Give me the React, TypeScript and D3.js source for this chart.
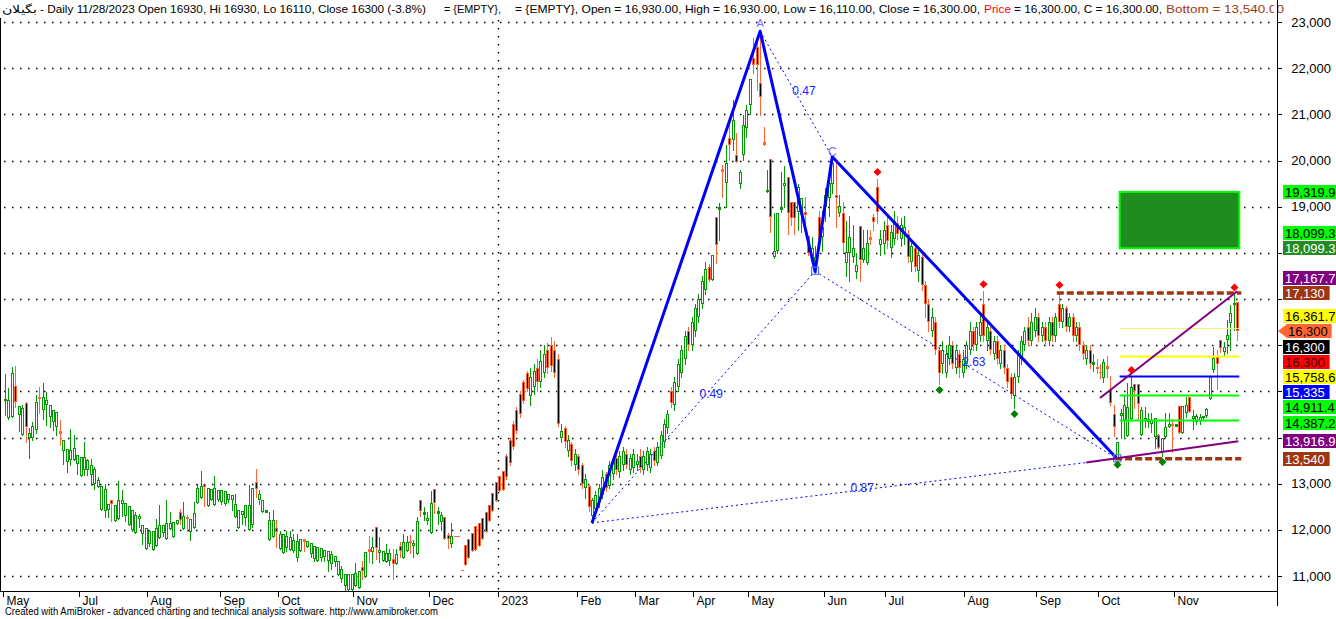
import { useEffect } from "react";
import * as d3 from "d3";

const WIDTH = 1336;
const HEIGHT = 619;
const PLOT_RIGHT = 1277;
const AXIS_Y = 591;
const GREEN = "#009a00";
const ORANGE = "#ff6633";
const BLUE = "#0000ff";
const FONT = "'Liberation Sans', Arial, sans-serif";

// daily candles [open, high, low, close]
const may22 = [
  [14810, 15377, 14485, 14830], [14413, 15065, 14400, 14812], [14435, 15536, 14435, 15392], [15116, 15550, 14666, 14775],
  [14485, 14681, 14145, 14681], [14050, 14703, 14050, 14630], [14739, 14775, 13905, 14231], [14000, 14195, 13565, 14087],
  [14000, 14340, 13956, 14246], [14159, 14920, 14087, 14775], [14884, 15087, 14522, 14848], [14594, 15174, 14391, 14870],
  [14703, 14978, 14268, 14812], [14449, 14703, 14232, 14703], [14326, 14594, 14159, 14594], [14232, 14543, 14050, 14543],
  [14137, 14377, 13833, 14087], [13710, 13941, 13420, 13941], [13470, 13760, 13253, 13760], [13506, 14181, 13398, 13738],
  [13506, 14050, 13506, 13782], [13434, 13630, 13216, 13630], [13166, 13579, 13166, 13579], [13304, 13905, 13180, 13579],
  [13289, 13528, 13180, 13506], [13180, 13528, 12963, 13412], [13000, 13360, 12890, 13325], [12927, 13144, 12927, 13086],
  [12433, 12941, 12433, 12941], [12405, 12985, 12274, 12890], [12419, 12564, 12274, 12564], [12651, 12651, 12201, 12550],
  [12201, 12528, 12201, 12528], [12238, 13057, 12238, 12636], [12550, 12854, 12310, 12636], [12310, 12579, 12201, 12579],
  [12094, 12507, 12094, 12507],
];
const aug22 = [
  [12007, 12420, 11985, 12420], [11934, 12384, 11934, 12311], [12239, 12348, 12057, 12290], [11912, 12108, 11695, 12108],
  [11586, 12036, 11586, 12036], [11695, 11985, 11659, 11985], [11564, 11985, 11564, 11985], [11659, 12239, 11659, 12043],
  [11826, 12529, 11826, 12108], [11927, 12094, 11876, 12094], [11804, 12638, 11804, 12145], [12021, 12384, 12021, 12152],
  [11855, 12159, 11855, 12159], [12116, 12203, 12116, 12203], [12384, 12456, 12116, 12217], [12021, 12601, 12021, 12290],
  [12275, 12311, 11970, 12261], [11963, 12239, 11782, 12239], [12036, 12601, 12036, 12369], [12580, 13000, 12580, 12913],
  [12696, 13268, 12696, 12942], [12986, 12986, 12514, 12928], [12507, 12913, 12507, 12913], [12638, 12891, 12638, 12891],
  [12543, 13160, 12543, 12913], [12652, 12870, 12620, 12870], [12601, 12870, 12565, 12855], [12565, 12840, 12530, 12840],
  [12638, 12783, 12600, 12768], [12652, 12746, 12420, 12746], [12275, 12783, 12275, 12565], [12036, 12420, 12036, 12420],
  [12326, 12398, 12130, 12398], [12261, 12543, 12094, 12543], [12000, 12964, 12000, 12529], [12094, 12913, 12057, 12913],
  [13036, 13326, 12710, 12891],
];
const oct22 = [
  [12652, 12870, 12565, 12768], [12384, 12652, 12384, 12652], [12384, 12420, 12384, 12420], [11782, 12384, 11782, 12217],
  [11840, 12420, 11840, 12217], [12043, 12203, 11622, 11949], [11586, 11970, 11586, 11912], [11499, 11912, 11499, 11912],
  [11608, 11970, 11550, 11876], [11565, 11985, 11565, 11855], [11550, 11912, 11514, 11782], [11390, 11912, 11333, 11768],
  [11536, 11804, 11536, 11804], [11804, 11804, 11550, 11768], [11637, 11768, 11637, 11768], [11478, 11710, 11405, 11710],
  [11369, 11659, 11333, 11659], [11333, 11622, 11333, 11622], [11390, 11608, 11333, 11608], [11405, 11565, 11333, 11565],
  [11333, 11536, 11115, 11536], [11260, 11550, 11150, 11478], [11296, 11441, 11225, 11441], [11028, 11333, 11028, 11333],
  [10934, 11220, 10880, 11151], [10789, 11043, 10700, 11043], [10695, 11043, 10695, 11043], [10695, 11043, 10695, 11043],
  [10789, 11275, 10789, 11057], [10738, 11115, 10738, 11115], [11188, 11333, 10934, 11101], [10970, 11514, 10970, 11514],
  [11586, 11876, 11296, 11550], [11514, 11840, 11275, 11637], [12057, 12057, 11369, 11608], [11490, 11852, 11294, 11562],
];
const dec22 = [
  [11316, 11533, 11316, 11533], [11294, 11692, 11294, 11490], [11316, 11583, 11243, 11490], [11366, 11583, 10932, 11258],
  [11258, 11583, 11258, 11475], [11656, 11728, 11403, 11533], [11388, 11910, 11388, 11728], [11547, 11873, 11547, 11728],
  [11765, 11895, 11489, 11728], [11656, 11779, 11403, 11707], [11475, 12271, 11475, 12185], [12648, 12648, 12308, 12416],
  [12344, 12489, 12214, 12380], [12185, 12380, 12127, 12257], [11931, 12851, 11931, 12576], [12887, 12887, 12358, 12576],
  [12358, 12489, 12127, 12409], [12163, 12380, 11996, 12329], [12271, 12271, 11801, 11801], [11895, 11924, 11605, 11801],
  [11692, 12148, 11620, 11873], [11866, 11866, 11866, 11866], [11866, 11866, 11866, 11866], [11128, 11128, 11128, 11128],
  [11670, 11670, 11236, 11236], [11801, 11801, 11388, 11388], [11931, 11931, 11547, 11547], [12090, 12090, 11562, 11562],
  [12148, 12148, 11656, 11656], [12257, 12257, 11801, 11801], [12380, 12380, 11946, 11946], [12547, 12547, 12185, 12185],
  [12800, 12800, 12402, 12402], [13046, 13046, 12619, 12619], [13169, 13169, 12836, 12836], [13285, 13285, 12865, 12865],
];
const feb23 = [
  [13600, 13650, 13100, 13150], [13950, 14000, 13400, 13450], [14300, 14350, 13750, 13800], [14600, 14650, 14100, 14150],
  [14950, 15000, 14450, 14500], [15200, 15250, 14750, 14800], [15400, 15450, 15000, 15050], [14900, 15500, 14700, 15300],
  [15100, 15600, 14950, 15450], [15500, 15700, 15000, 15200], [15200, 15900, 15100, 15650], [15400, 16000, 15300, 15800],
  [15900, 16050, 15400, 15500], [16000, 16180, 15450, 15550], [15900, 16100, 15300, 15400], [15700, 15800, 14250, 14300],
  [14000, 14300, 13900, 14150], [14200, 14250, 13800, 13900], [13700, 14050, 13600, 13950], [13850, 13900, 13400, 13500],
  [13400, 13750, 13300, 13650], [13600, 13650, 13200, 13300], [13400, 13450, 12900, 13000], [12900, 13200, 12700, 13100],
  [12950, 13000, 12400, 12500], [12300, 12700, 12150, 12650], [12450, 12850, 12350, 12750], [12600, 13000, 12500, 12900],
  [12750, 13300, 12700, 13150], [13200, 13250, 12850, 12900], [12950, 13500, 12900, 13400], [13200, 13600, 13100, 13500],
  [13550, 13700, 13200, 13300], [13250, 13700, 13150, 13600], [13400, 13800, 13300, 13700], [13650, 13750, 13350, 13400],
  [13300, 13650, 13200, 13550], [13350, 13750, 13250, 13650], [13400, 13650, 13300, 13500], [13600, 13750, 13250, 13350],
  [13300, 13700, 13200, 13600], [13400, 13800, 13300, 13700], [13350, 13750, 13250, 13650], [13700, 13800, 13400, 13500],
  [13450, 13900, 13400, 13800], [13600, 14150, 13550, 14050], [13900, 14400, 13800, 14300], [14200, 14600, 14100, 14500],
  [15000, 15100, 14650, 14750], [14700, 15300, 14600, 15200], [15100, 15700, 15000, 15600], [15400, 16000, 15300, 15900],
  [15700, 16300, 15600, 16200], [16300, 16400, 15900, 16000], [16000, 16600, 15900, 16500], [16300, 16900, 16200, 16800],
  [16600, 17100, 16500, 17000], [16900, 17500, 16800, 17400], [17200, 17800, 17100, 17650],
];
const may23 = [
  [17693, 17750, 17400, 17412], [17412, 17953, 17412, 17953], [18776, 18776, 17780, 18170], [18950, 19080, 18278, 18986],
  [19820, 19903, 19210, 19780], [19513, 20336, 18993, 19946], [20488, 20812, 20010, 20336], [20444, 21311, 20227, 20877],
  [20119, 20600, 19967, 19967], [19491, 19800, 19400, 19751], [20119, 20986, 20010, 20769], [20700, 21200, 20500, 21100],
  [21202, 21765, 21000, 21765], [22220, 22653, 21895, 22069], [22458, 22653, 21527, 22069], [21679, 22800, 20986, 21376],
  [20400, 20726, 20336, 20350], [19330, 19794, 19318, 19361], [20032, 20032, 18451, 18776], [17910, 18863, 17888, 18040],
  [18040, 18863, 18000, 18863], [18950, 19750, 18880, 18993], [19450, 19881, 18993, 19513], [19643, 19643, 18408, 18863],
  [19101, 19101, 18600, 18755], [19101, 19101, 18408, 18755], [18885, 19500, 18500, 19426], [18820, 19188, 18450, 19188],
  [18885, 19200, 18650, 18820], [18365, 18365, 17950, 17997], [17845, 18350, 17800, 18105], [17628, 18150, 17560, 17910],
  [18776, 18900, 18100, 18278], [18343, 18900, 18050, 18560], [18993, 19400, 18700, 19253], [19188, 19800, 18800, 19513],
  [19500, 20100, 19300, 19950], [19253, 19950, 18560, 19188], [18863, 19250, 18800, 19015], [18863, 19100, 18000, 18213],
  [17780, 18700, 17500, 18018], [17997, 18800, 17400, 18343], [17900, 18600, 17800, 18100], [17585, 18000, 17450, 17737],
  [18582, 18582, 17400, 17845], [17845, 18500, 17800, 18105], [17780, 18500, 17750, 18213], [18343, 18500, 18200, 18300],
  [18776, 18850, 18500, 18668], [19426, 19600, 18650, 18885], [18170, 18500, 17950, 18300],
];
const jul23 = [
  [18200, 18700, 18000, 18500], [18600, 18800, 18100, 18250], [18100, 18600, 17900, 18450], [18300, 18900, 18200, 18700],
  [18650, 18800, 18300, 18400], [18300, 18750, 18150, 18600], [18400, 18800, 18200, 18550], [18400, 18500, 17800, 17900],
  [17800, 18300, 17600, 18150], [18100, 18200, 17600, 17700], [17600, 18100, 17400, 17950], [17900, 18000, 17200, 17300],
  [17300, 17400, 16600, 16900], [16900, 17000, 16300, 16500], [16300, 16800, 16200, 16600], [16500, 16600, 15800, 15900],
  [15900, 16000, 15160, 15400], [15600, 16100, 15400, 15900], [15400, 16000, 15300, 15800], [15700, 16200, 15600, 16000],
  [16000, 16100, 15500, 15600], [15500, 16000, 15400, 15900], [15800, 15900, 15300, 15500], [15400, 15900, 15300, 15700],
  [15600, 16100, 15500, 16000], [15900, 16500, 15800, 16300], [16300, 16400, 15900, 16000], [16000, 16500, 15900, 16400],
  [16200, 16700, 16100, 16500], [16900, 17170, 16100, 16200], [16100, 16500, 15900, 16400], [16300, 16400, 15800, 15900],
  [15800, 16200, 15700, 16100], [16100, 16200, 15600, 15700], [15600, 16000, 15500, 15900], [15900, 16000, 15400, 15500],
  [15500, 15600, 15100, 15200], [15300, 15400, 14850, 14950], [14900, 15400, 14640, 15300], [15300, 15900, 15200, 15800],
  [15700, 16200, 15600, 16100], [16000, 16400, 15900, 16300], [16400, 16600, 16000, 16100], [16100, 16700, 16000, 16500],
  [16300, 16800, 16200, 16600], [16600, 16700, 16100, 16200], [16200, 16500, 16100, 16400], [16400, 16500, 16000, 16100],
  [16100, 16600, 16000, 16500], [16500, 16600, 16100, 16200], [16200, 16700, 16100, 16600], [16900, 17150, 16400, 16500],
  [16500, 16900, 16400, 16800], [16800, 16850, 16300, 16400], [16400, 16700, 16300, 16600], [16600, 16700, 16100, 16200],
  [16200, 16500, 16100, 16400], [16400, 16500, 15900, 16000], [16000, 16100, 15700, 15800], [15700, 16000, 15600, 15900],
  [15900, 16000, 15500, 15600], [15600, 15800, 15450, 15640], [15530, 15700, 15400, 15510], [15420, 15600, 15280, 15420],
  [15280, 15700, 15200, 15640], [15550, 15760, 15300, 15500],
];
const oct23 = [
  [15030, 15330, 14700, 14747], [14509, 14704, 14032, 14227], [13556, 13903, 13540, 13903], [14470, 14620, 13990, 14530],
  [14380, 14900, 13990, 14700], [14032, 15180, 14032, 14660], [14400, 15310, 14400, 15095], [15160, 15160, 14640, 15010],
  [15160, 15160, 14400, 14725], [14054, 14670, 14054, 14600], [14360, 14670, 14230, 14420], [14340, 14540, 14230, 14400],
  [14300, 14540, 14120, 14380], [14010, 14420, 13770, 14420], [14054, 14080, 13770, 13770], [13690, 13990, 13600, 13990],
  [14010, 14530, 14010, 14230], [14230, 14530, 14230, 14290], [14290, 14400, 13690, 14270], [14240, 14290, 14240, 14290],
  [14680, 14680, 14100, 14100], [14100, 14680, 14100, 14680], [14530, 14880, 14440, 14700], [14880, 14880, 14550, 14550],
  [14400, 14600, 14180, 14460], [14330, 14500, 14290, 14460], [14360, 14500, 14290, 14450], [14440, 14460, 14400, 14460],
  [14460, 14640, 14440, 14620], [14835, 15310, 14835, 15310], [15460, 15960, 15420, 15720], [15742, 15900, 15050, 15590],
  [16110, 16110, 15860, 15940], [15850, 16060, 15780, 15960], [16110, 16540, 15840, 16220], [16480, 16880, 15900, 16700],
  [16890, 17100, 16320, 16920], [16930, 16930, 16110, 16300],
];

const monthLabels = ["May", "Jul", "Aug", "Sep", "Oct", "Nov", "Dec", "2023", "Feb", "Mar", "Apr", "May", "Jun", "Jul", "Aug", "Sep", "Oct", "Nov"];
const monthBars = [0, 22, 42, 63, 80, 102, 124, 144, 167, 184, 201, 217, 239, 257, 280, 301, 319, 341];

// harmonic pattern X A B C D (bar index, price)
const patternNames = ["X", "A", "B", "C", "D"];
const patternBars = [171, 220, 236, 241, 324];
const patternPrices = [12150, 22800, 17600, 20080, 13540];
const ratioPairs = [[0, 2, "0.49"], [1, 3, "0.47"], [2, 4, "2.63"], [0, 4, "0.87"]];

const redDiamondBars = [254, 285, 307, 328, 358];
const greenDiamondBars = [272, 294, 324, 337];

const zoneTop = 19319.9;
const zoneBottom = 18099.3;
const resistance = 17130;
const support = 13540;
const upperTrend = [[319, 14856], [359, 17167.7]];
const lowerTrend = [[315, 13460], [359, 13916.9]];
const levelPrices = [16361.7, 15758.6, 15335, 14911.4, 14387.2];
const levelColors = ["#f2f27a", "#ffff00", "#0000ff", "#00ff00", "#00ff00"];

// right-edge value labels, top to bottom
const tagPrices = [19319.9, 18099.3, 18099.3, 17167.7, 17130, 16361.7, 16300, 16300, 16300, 15758.6, 15335, 14911.4, 14387.2, 13916.9, 13540];
const tagFills = ["#00ff00", "#00ff00", "#228b22", "#800080", "#a0360f", "#ffff00", "#ff6633", "#000000", "#ff0000", "#ffff00", "#0000ff", "#00ff00", "#00ff00", "#800080", "#a0360f"];
const tagInks = ["#000", "#000", "#fff", "#fff", "#fff", "#000", "#000", "#fff", "#400000", "#000", "#fff", "#000", "#000", "#fff", "#fff"];
const tagAnchor = 6;

const candles = [...may22, ...aug22, ...oct22, ...dec22, ...feb23, ...may23, ...jul23, ...oct23].map(([o, h, l, c], i) => ({ i, o, h, l, c }));

export default function App() {
  useEffect(() => {
    document.body.style.margin = "0";
  }, []);

  const x = d3.scaleLinear().domain([0, candles.length - 1]).range([5, 1237.3]);
  const y = d3.scaleLinear().domain([11000, 23000]).range([576, 22]);
  const step = x(1) - x(0);
  const priceTicks = y.ticks(12);
  const fmt = d3.format(",");

  const grid = priceTicks.map((v) => (
    <line key={v} x1={4} x2={PLOT_RIGHT - 4} y1={Math.round(y(v)) + 0.5} y2={Math.round(y(v)) + 0.5}
      stroke="#000" strokeWidth={1.5} strokeDasharray="1.5 6.5" />
  ));

  const yearX = Math.round(x(monthBars[7]) - step / 2) + 0.5;

  const bars = candles.map((d) => {
    const px = Math.round(x(d.i));
    const up = d.c > d.o;
    const col = up ? GREEN : ORANGE;
    const yTop = Math.round(y(Math.max(d.o, d.c)));
    const yBot = Math.round(y(Math.min(d.o, d.c)));
    return (
      <g key={d.i}>
        <line x1={px + 0.5} x2={px + 0.5} y1={Math.round(y(d.h))} y2={Math.round(y(d.l)) + 1} stroke={col} />
        {yBot - yTop >= 3 ? (
          <rect x={px - 0.5} y={yTop + 0.5} width={2} height={yBot - yTop - 1} fill={up ? "#fff" : "#000"} stroke={col} />
        ) : (
          <rect x={px - 1} y={yTop} width={3} height={Math.max(1, yBot - yTop + 1)} fill={col} />
        )}
      </g>
    );
  });

  const pt = (k: number) => [x(patternBars[k]), y(patternPrices[k])];
  const solidPath = d3.line()([0, 1, 2, 3, 4].map((k) => pt(k) as [number, number]));

  const ratioLines = ratioPairs.map(([a, b, label]) => {
    const [x1, y1] = pt(a as number);
    const [x2, y2] = pt(b as number);
    const mx = (x1 + x2) / 2;
    const my = (y1 + y2) / 2;
    return (
      <g key={label as string}>
        <line x1={x1} y1={y1} x2={x2} y2={y2} stroke={BLUE} strokeWidth={1} strokeDasharray="2 3" />
        <text x={mx - 4} y={my + 1} fontSize={12} fill="#2222ff" fontFamily={FONT}>{label}</text>
      </g>
    );
  });

  const xEnd = x(candles.length - 1) + 2;
  const xLevel = x(325) - 1;

  const diamond = (cx: number, cy: number, fill: string, key: string) => (
    <path key={key} d={`M${cx},${cy - 4}L${cx + 4},${cy}L${cx},${cy + 4}L${cx - 4},${cy}Z`} fill={fill} />
  );

  // lay out value tags: anchor stays, others pushed away
  const tagH = 15.2;
  const tagY = tagPrices.map((p) => y(p));
  for (let k = tagAnchor - 1; k >= 0; k--) tagY[k] = Math.min(tagY[k], tagY[k + 1] - tagH);
  for (let k = tagAnchor + 1; k < tagY.length; k++) tagY[k] = Math.max(tagY[k], tagY[k - 1] + tagH);

  // axis values hidden behind a tag are not drawn
  const axisTicks = priceTicks.filter((v) => tagY.every((ty) => Math.abs(ty - y(v)) > 9));

  const tags = tagPrices.map((p, k) => {
    const label = fmt(p);
    const w = label.length * 7.1 + 4;
    const cy = Math.round(tagY[k]);
    const left = PLOT_RIGHT + 6;
    return (
      <g key={k}>
        {k === tagAnchor ? (
          <path d={`M${PLOT_RIGHT + 1},${cy}L${left + 4},${cy - 7}L${left + w + 2},${cy - 7}L${left + w + 2},${cy + 7}L${left + 4},${cy + 7}Z`} fill={tagFills[k]} />
        ) : (
          <rect x={left} y={cy - 7} width={w} height={14} fill={tagFills[k]} />
        )}
        <text x={k === tagAnchor ? left + 5 : left + 2} y={cy + 5} fontSize={13} fill={tagInks[k]} fontFamily={FONT}>{label}</text>
      </g>
    );
  });

  return (
    <div style={{ position: "fixed", left: 0, top: 0 }}>
      <svg width={WIDTH} height={HEIGHT} style={{ display: "block", background: "#fff" }}>
        <rect width={WIDTH} height={HEIGHT} fill="#fff" />
        {grid}
        <line x1={yearX} x2={yearX} y1={20} y2={AXIS_Y} stroke="#000" strokeWidth={1.5} strokeDasharray="1.5 6.5" />
        <g shapeRendering="crispEdges">{bars}</g>

        {/* harmonic pattern */}
        {ratioLines}
        <path d={solidPath ?? ""} fill="none" stroke={BLUE} strokeWidth={3} strokeLinejoin="round" />
        <text x={pt(1)[0]} y={pt(1)[1] - 4} fontSize={11} fill="#6f6fff" textAnchor="middle" fontFamily={FONT}>{patternNames[1]}</text>
        <text x={pt(3)[0]} y={pt(3)[1] - 1} fontSize={12} fill="#6f6fff" textAnchor="middle" fontFamily={FONT}>{patternNames[3]}</text>
        {[2, 4].map((k) => (
          <rect key={k} x={pt(k)[0] - 3.5} y={pt(k)[1] - 4} width={7} height={7} fill="none" stroke="#5577ff" strokeWidth={1.2} />
        ))}

        {/* target zone and levels */}
        <rect x={xLevel} y={y(zoneTop)} width={xEnd - xLevel} height={y(zoneBottom) - y(zoneTop)} fill="#1f8c1f" stroke="#00ff00" strokeWidth={2} />
        {levelPrices.map((p, k) => (
          <line key={p} x1={xLevel} x2={xEnd} y1={Math.round(y(p)) + 0.5} y2={Math.round(y(p)) + 0.5}
            stroke={levelColors[k]} strokeWidth={k === 0 ? 1 : 2} />
        ))}
        <line x1={x(307) - 2} x2={xEnd + 2} y1={y(resistance)} y2={y(resistance)} stroke="#a0360f" strokeWidth={3.5} strokeDasharray="7 3" />
        <line x1={x(324) - 2} x2={xEnd + 2} y1={y(support)} y2={y(support)} stroke="#a0360f" strokeWidth={3.5} strokeDasharray="7 3" />
        <line x1={x(upperTrend[0][0])} y1={y(upperTrend[0][1])} x2={x(upperTrend[1][0])} y2={y(upperTrend[1][1])} stroke="#800080" strokeWidth={2} />
        <line x1={x(lowerTrend[0][0])} y1={y(lowerTrend[0][1])} x2={x(lowerTrend[1][0]) + 1} y2={y(lowerTrend[1][1])} stroke="#800080" strokeWidth={2} />

        {redDiamondBars.map((i) => diamond(Math.round(x(i)) + 0.5, y(candles[i].h) - 7, "#ff0000", `r${i}`))}
        {greenDiamondBars.map((i) => diamond(Math.round(x(i)) + 0.5, y(candles[i].l) + 6, "#008000", `g${i}`))}

        {/* frame and axes */}
        <line x1={0.5} x2={0.5} y1={0} y2={AXIS_Y} stroke="#000" />
        <line x1={0} x2={PLOT_RIGHT} y1={AXIS_Y + 0.5} y2={AXIS_Y + 0.5} stroke="#000" />
        <line x1={PLOT_RIGHT + 0.5} x2={PLOT_RIGHT + 0.5} y1={0} y2={606} stroke="#000" />
        {monthBars.map((b, k) => {
          const tx = Math.round(x(b) - step / 2) + 0.5;
          return (
            <g key={k}>
              <line x1={tx} x2={tx} y1={AXIS_Y} y2={AXIS_Y + 6} stroke="#000" />
              <text x={tx + 3} y={605} fontSize={12} fontFamily={FONT} fill="#000">{monthLabels[k]}</text>
            </g>
          );
        })}
        {priceTicks.map((v) => (
          <line key={v} x1={PLOT_RIGHT} x2={PLOT_RIGHT + 5} y1={Math.round(y(v)) + 0.5} y2={Math.round(y(v)) + 0.5} stroke="#000" />
        ))}
        {axisTicks.map((v) => (
          <text key={v} x={1331} y={y(v) + 4.5} fontSize={13} textAnchor="end" fontFamily={FONT} fill="#000">{fmt(v)}</text>
        ))}
        {tags}

        {/* header */}
        <rect x={0} y={0} width={PLOT_RIGHT} height={18} fill="#fff" />
        <g fontFamily={FONT} fontSize={11}>
          <text x={2} y={13} textLength={35} lengthAdjust="spacingAndGlyphs">بگیلان</text>
          <text x={40} y={13} textLength={386} lengthAdjust="spacingAndGlyphs">- Daily 11/28/2023 Open 16930, Hi 16930, Lo 16110, Close 16300 (-3.8%)</text>
          <text x={444} y={13} textLength={57} lengthAdjust="spacingAndGlyphs">= {"{EMPTY}"},</text>
          <text x={515} y={13} textLength={465} lengthAdjust="spacingAndGlyphs">= {"{EMPTY}"}, Open = 16,930.00, High = 16,930.00, Low = 16,110.00, Close = 16,300.00,</text>
          <text x={984} y={13} textLength={27} lengthAdjust="spacingAndGlyphs" fill="#ff0000">Price</text>
          <text x={1014} y={13} textLength={148} lengthAdjust="spacingAndGlyphs">= 16,300.00, C = 16,300.00,</text>
          <text x={1166} y={13} textLength={118} lengthAdjust="spacingAndGlyphs" fill="#a0360f">Bottom = 13,540.00</text>
        </g>
        <rect x={PLOT_RIGHT - 3} y={0} width={3} height={18} fill="#fff" />
        <line x1={PLOT_RIGHT + 0.5} x2={PLOT_RIGHT + 0.5} y1={0} y2={18} stroke="#000" />

        <text x={5} y={615} fontSize={10} fontFamily={FONT} textLength={433} lengthAdjust="spacingAndGlyphs" fill="#000">
          Created with AmiBroker - advanced charting and technical analysis software. http://www.amibroker.com
        </text>
      </svg>
    </div>
  );
}
